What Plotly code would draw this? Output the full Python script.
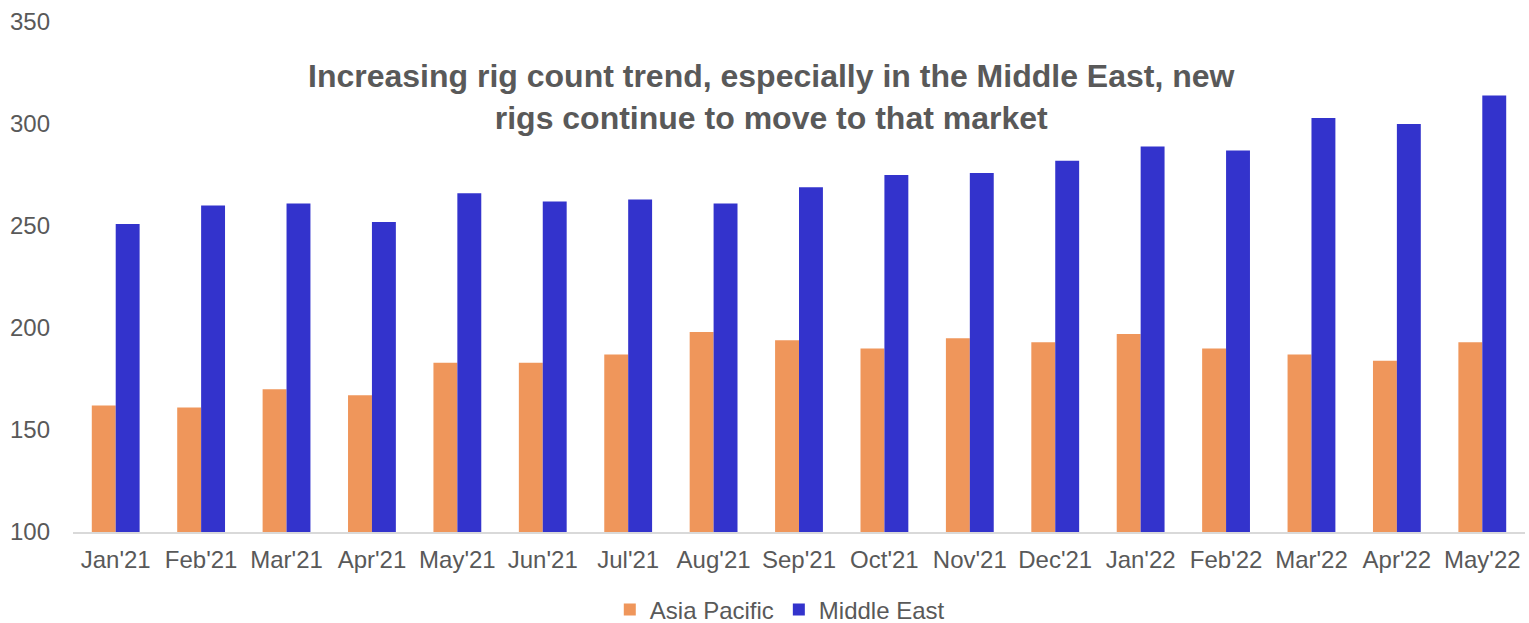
import plotly.graph_objects as go

categories = ["Jan'21", "Feb'21", "Mar'21", "Apr'21", "May'21", "Jun'21", "Jul'21", "Aug'21",
              "Sep'21", "Oct'21", "Nov'21", "Dec'21", "Jan'22", "Feb'22", "Mar'22", "Apr'22", "May'22"]
asia_pacific = [162, 161, 170, 167, 183, 183, 187, 198, 194, 190, 195, 193, 197, 190, 187, 184, 193]
middle_east = [251, 260, 261, 252, 266, 262, 263, 261, 269, 275, 276, 282, 289, 287, 303, 300, 314]
y_ticks = [100, 150, 200, 250, 300, 350]

font_family = "Liberation Sans, Arial, sans-serif"
grey = "#595959"

fig = go.Figure()
fig.add_trace(go.Bar(x=categories, y=asia_pacific, name="Asia Pacific",
                     marker=dict(color="#EF965B", line=dict(width=0))))
fig.add_trace(go.Bar(x=categories, y=middle_east, name="Middle East",
                     marker=dict(color="#3333CC", line=dict(width=0))))

fig.update_layout(
    width=1529, height=623,
    margin=dict(l=73, r=4, t=22, b=91, autoexpand=False),
    paper_bgcolor="white", plot_bgcolor="white",
    barmode="group", bargap=0.44, bargroupgap=0,
    font=dict(family=font_family, color=grey, size=24),
    showlegend=True,
    legend=dict(orientation="h", x=0.51, xref="container", xanchor="center",
                y=0.021, yref="container", yanchor="middle",
                font=dict(size=24, color=grey), itemwidth=30, traceorder="normal"),
    xaxis=dict(showline=True, linecolor="#D9D9D9", linewidth=2, ticks="",
               tickfont=dict(size=24, color=grey), showgrid=False, automargin=False,
               ticklabelstandoff=5),
    yaxis=dict(range=[100, 350], tickvals=y_ticks, showgrid=False, showline=False,
               zeroline=False, ticks="", tickfont=dict(size=24, color=grey),
               ticklabelstandoff=22, automargin=False),
    annotations=[dict(
        text="<b>Increasing rig count trend, especially in the Middle East, new<br>rigs continue to move to that market</b>",
        x=0.481, xref="paper", y=0.853, yref="paper",
        xanchor="center", yanchor="middle", showarrow=False,
        font=dict(size=32, color=grey, family=font_family), align="center")],
)

fig.write_html("out.html", config={"displayModeBar": False},
               post_script="document.body.style.margin='0';document.body.style.overflow='hidden';")
